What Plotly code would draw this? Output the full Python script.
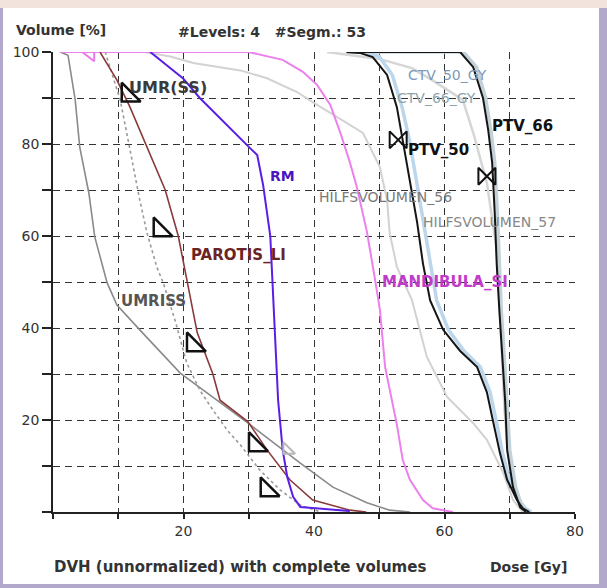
import plotly.graph_objects as go

# ---------------- data ----------------
umriss_dose = [1.1, 2.3, 3.4, 4.1, 5.5, 6.4, 8.3, 9.8, 13.3, 19.5, 29.9, 35.2, 37.9, 42.9, 48.1, 51.6, 54.7]
umriss_vol = [100, 99.3, 89.6, 79.3, 69.3, 59.8, 49.8, 45, 39.6, 30.2, 19.3, 13.5, 10.6, 5.4, 2, 0.4, 0]

umrss_dose = [8, 10.3, 11.3, 12.3, 13.3, 14.4, 15.9, 16.9, 18.7, 20.5, 22.5, 24.5, 26.7, 28.7, 31.7, 34.8, 37.9, 41]
umrss_vol = [100, 89.6, 82.4, 75, 67.8, 60.7, 53.3, 49.8, 41.7, 32.4, 26.5, 22.2, 17.8, 14.6, 9.1, 4.8, 1.5, 0]

parotis_dose = [7.2, 9.8, 11.8, 14.4, 17.2, 19.2, 20.2, 22.1, 24.5, 25.6, 29.9, 32.8, 36.3, 39.8, 45.5, 48]
parotis_vol = [100, 93.9, 88, 79.3, 70, 60, 53, 39, 30, 24.3, 19.6, 13.5, 7, 2.6, 0.4, 0]

rm_dose = [14.9, 19.9, 22.5, 25.1, 27.6, 30.2, 31.3, 31.7, 32.2, 33.3, 34.0, 34.5, 35.2, 35.9, 36.8, 37.9, 45.5]
rm_vol = [100, 94.3, 90, 86.3, 82.6, 79.1, 77.6, 74.8, 71.1, 60, 40, 24.3, 13.5, 7.6, 3.3, 1.1, 0.2]

mand_dose = [1, 30, 35.2, 38.3, 40.5, 42.5, 44, 45.5, 46.5, 48.1, 49.3, 50.1, 50.9, 52.7, 53.6, 54.7, 56.7, 58.2, 61.3]
mand_vol = [100, 100, 98.3, 95.7, 92.8, 88.5, 82.6, 76, 71, 61, 51, 44, 31.5, 19, 11.3, 7, 2.6, 0.8, 0]

hilf56_dose = [14, 18, 21.5, 28.7, 32.8, 37.4, 39.8, 44.4, 47.5, 50.1, 51.2, 51.6, 52.7, 55, 57.3, 60.4, 64.4, 66.5, 69, 70.5, 72]
hilf56_vol = [100, 99, 97.6, 96, 94.3, 91.3, 89.1, 85.2, 82.4, 75, 67.8, 60.7, 53.3, 46.1, 33.7, 25, 19.3, 15.7, 8.5, 2.6, 0]

hilf57_dose = [42, 50, 55, 58, 62.8, 64.5, 66.5, 68, 68.4, 68.8, 69.2, 69.8, 70.8, 71.8, 72.5]
hilf57_vol = [100, 98.5, 96.5, 94, 89.6, 82, 71.5, 57, 46, 33, 22, 12, 5, 1, 0]

ctv50_dose = [45, 48, 50, 52, 53.5, 54.6, 55.7, 56.8, 57.8, 58.8, 60.6, 63, 65.5, 67, 67.9, 68.9, 70, 71.4, 72.4, 73.3]
ctv50_vol = [100, 99.9, 99, 95, 88, 81, 72, 63, 54, 46, 39.6, 35, 31.5, 26, 20, 12.8, 7, 2.6, 0.8, 0]

ptv50_dose = [45, 47, 49, 51.2, 52.7, 53.6, 54.7, 55.8, 56.7, 57.8, 59.8, 62.4, 65, 66.5, 67.4, 68.5, 69.6, 71.1, 72, 73]
ptv50_vol = [100, 99.8, 98.9, 95, 88, 81, 72, 63, 54, 46, 39.6, 35, 31.5, 26, 20, 12.8, 7, 2.6, 0.8, 0]

ctv66_dose = [45, 62.9, 64.9, 66.3, 67.1, 67.7, 68.1, 68.4, 68.7, 69.1, 69.6, 70, 70.9, 71.9, 72.8]
ctv66_vol = [100, 100, 96.7, 90, 83, 76, 65, 54, 44, 35, 24, 13.5, 5.4, 1, 0]

ptv66_dose = [45, 62.4, 64.4, 65.9, 66.7, 67.3, 67.7, 68.0, 68.4, 68.8, 69.3, 69.6, 70.5, 71.6, 72.5]
ptv66_vol = [100, 100, 96.7, 90, 83, 76, 65, 54, 44, 35, 24, 13.5, 5.4, 1, 0]

# constraint markers
tri_dose = [11.5, 16.4, 21.5, 31.0, 32.8]
tri_vol = [90.6, 61.3, 36.3, 14.6, 4.8]
tri_light_dose = [35.9]
tri_light_vol = [13.5]
bow_dose = [52.9, 66.5]
bow_vol = [80.9, 73.0]
pink_dose = [5.7]
pink_vol = [100]

# labels
label_text = ["UMR(SS)", "UMRISS", "RM", "PAROTIS_LI", "MANDIBULA_SI", "CTV_50_GY", "CTV_66_GY",
              "PTV_66", "PTV_50", "HILFSVOLUMEN_56", "HILFSVOLUMEN_57"]
label_x = [17.6, 15.4, 35.1, 28.4, 60.0, 60.4, 58.8, 72.0, 59.1, 50.9, 66.9]
label_y = [92.2, 45.8, 73.0, 55.9, 50.0, 95.0, 90.0, 84.0, 78.7, 68.5, 63.0]
label_color = ["#3a3a3a", "#555555", "#4a14c0", "#6a2424", "#c03cc8", "#7e98b8", "#8ea4ac",
               "#111111", "#111111", "#7a7a7a", "#888888"]
label_size = [16, 15, 14, 15, 15, 14, 14, 15, 15, 14, 14]
label_bold = [True, True, True, True, True, False, False, True, True, False, False]

x_ticks = [0, 10, 20, 30, 40, 50, 60, 70, 80]
x_ticktext = ["", "", "20", "", "40", "", "60", "", "80"]
y_ticks = [0, 10, 20, 30, 40, 50, 60, 70, 80, 90, 100]
y_ticktext = ["", "", "20", "", "40", "", "60", "", "80", "", "100"]

# ---------------- figure ----------------
W, H = 607, 588
L, R, T, B = 53, 32, 52, 76
PW, PH = W - L - R, H - T - B


def px(x):
    return (x - L) / PW


def py(y):
    return (H - B - y) / PH


fig = go.Figure()

def line(x, y, color, width, dash="solid", name=""):
    fig.add_trace(go.Scatter(x=x, y=y, mode="lines", name=name,
                             line=dict(color=color, width=width, dash=dash),
                             hoverinfo="skip"))

line(hilf56_dose, hilf56_vol, "#d2d2d2", 2, name="HILFSVOLUMEN_56")
line(hilf57_dose, hilf57_vol, "#d6d6d6", 2.5, name="HILFSVOLUMEN_57")
line(ctv50_dose, ctv50_vol, "#bcd6ec", 3.5, name="CTV_50_GY")
line(ctv66_dose, ctv66_vol, "#c2d2d8", 3.5, name="CTV_66_GY")
line(umriss_dose, umriss_vol, "#8a8a8a", 1.6, name="UMRISS")
line(umrss_dose, umrss_vol, "#9a9a9a", 1.6, dash="dot", name="UMR(SS)")
line(mand_dose, mand_vol, "#ec80ec", 2, name="MANDIBULA_SI")
line(parotis_dose, parotis_vol, "#8a3a3a", 1.6, name="PAROTIS_LI")
line(rm_dose, rm_vol, "#5a1ee6", 2, name="RM")
line(ptv50_dose, ptv50_vol, "#151515", 2, name="PTV_50")
line(ptv66_dose, ptv66_vol, "#151515", 2, name="PTV_66")

fig.add_trace(go.Scatter(x=tri_dose, y=tri_vol, mode="markers", hoverinfo="skip",
                         marker=dict(symbol="triangle-sw-open", size=21, color="#111",
                                     line=dict(color="#111", width=2.5))))
fig.add_trace(go.Scatter(x=tri_light_dose, y=tri_light_vol, mode="markers", hoverinfo="skip",
                         marker=dict(symbol="triangle-sw-open", size=13, color="#b8b8b8",
                                     line=dict(color="#b8b8b8", width=2))))
fig.add_trace(go.Scatter(x=bow_dose, y=bow_vol, mode="markers", hoverinfo="skip",
                         marker=dict(symbol="bowtie-open", size=17, color="#111",
                                     line=dict(color="#111", width=2))))
fig.add_trace(go.Scatter(x=pink_dose, y=pink_vol, mode="markers", hoverinfo="skip",
                         marker=dict(symbol="triangle-left-open", size=16, color="#ee77ee",
                                     line=dict(color="#ee77ee", width=2))))

font_b = "DejaVu Sans"
for t, x, y, c, s, b in zip(label_text, label_x, label_y, label_color, label_size, label_bold):
    fig.add_annotation(x=x, y=y, text=("<b>" + t + "</b>") if b else t, showarrow=False,
                       xanchor="center", yanchor="middle",
                       font=dict(family=font_b, size=s, color=c))

def ptext(t, x, y, anchor="left", size=12, color="#333"):
    fig.add_annotation(xref="paper", yref="paper", x=px(x), y=py(y), text="<b>" + t + "</b>",
                       showarrow=False, xanchor=anchor, yanchor="middle",
                       font=dict(family=font_b, size=size, color=color))

ptext("Volume [%]", 14, 30, size=14)
ptext("#Levels: 4&nbsp;&nbsp;&nbsp;#Segm.: 53", 176, 32, size=14)
ptext("DVH (unnormalized) with complete volumes", 52, 567, size=15)
ptext("Dose [Gy]", 569, 567, anchor="right", size=14)

# window frame
shapes = [
    dict(type="rect", xref="paper", yref="paper", x0=px(0), x1=px(W), y0=py(0), y1=py(8),
         fillcolor="#f2e4dc", line=dict(width=0), layer="below"),
    dict(type="rect", xref="paper", yref="paper", x0=px(0), x1=px(3), y0=py(8), y1=py(H),
         fillcolor="#b2a8cc", line=dict(width=0), layer="below"),
    dict(type="rect", xref="paper", yref="paper", x0=px(599), x1=px(W), y0=py(8), y1=py(H),
         fillcolor="#b2a8cc", line=dict(width=0), layer="below"),
    dict(type="rect", xref="paper", yref="paper", x0=px(0), x1=px(W), y0=py(584), y1=py(H),
         fillcolor="#b2a8cc", line=dict(width=0), layer="below"),
]

axis_common = dict(showgrid=True, gridcolor="#333", griddash="7px,5px", gridwidth=1,
                   zeroline=False, showline=True, linecolor="#222", linewidth=1.5,
                   ticks="outside", tickcolor="#222", tickwidth=1.5,
                   tickfont=dict(family=font_b, size=14, color="#333"))

fig.update_layout(
    width=W, height=H, margin=dict(l=L, r=R, t=T, b=B),
    paper_bgcolor="white", plot_bgcolor="white", showlegend=False,
    shapes=shapes,
    xaxis=dict(range=[0, 80], tickvals=x_ticks, ticktext=x_ticktext, ticklen=5, **axis_common),
    yaxis=dict(range=[0, 100], tickvals=y_ticks, ticktext=y_ticktext, ticklen=9, **axis_common),
)
fig.update_xaxes(tickprefix="<b>", ticksuffix="</b>")
fig.update_yaxes(tickprefix="<b>", ticksuffix="</b>")

fig.write_html("out.html")
